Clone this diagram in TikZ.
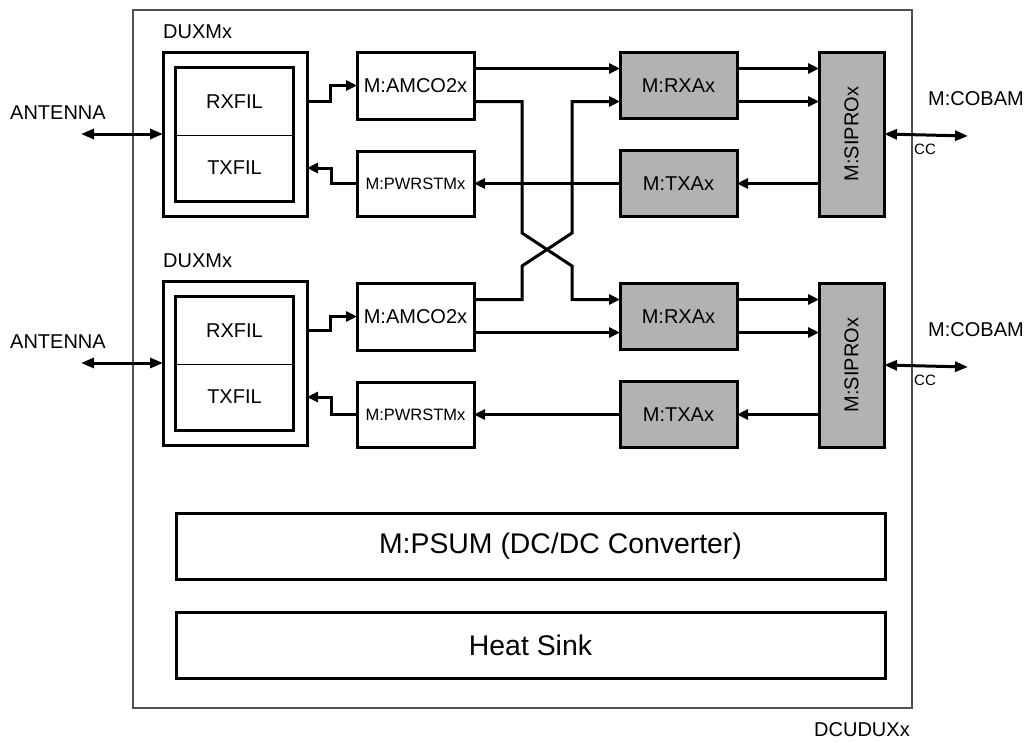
\documentclass[tikz,border=0pt]{standalone}
\usepackage{fontspec}
\setmainfont{Liberation Sans}
\usepackage{graphicx}
\usetikzlibrary{arrows.meta, positioning, calc}
\definecolor{modgray}{RGB}{178,178,178}
\definecolor{framegray}{RGB}{80,80,80}

\tikzset{
    modbox/.style={draw, line width=3pt, inner sep=0pt, outer sep=0pt,
        align=center, font=\fontsize{20}{24}\selectfont},
    rfbox/.style={modbox, fill=modgray, minimum width=117pt, minimum height=66pt},
    sig/.style={line width=3pt, -{Triangle[length=11pt,width=10pt]}},
    bidir/.style={line width=3pt,
        {Triangle[length=13pt,width=10pt]}-{Triangle[length=13pt,width=10pt]}},
    lbl/.style={inner sep=0pt, font=\fontsize{20}{24}\selectfont}
}

\begin{document}
\begin{tikzpicture}[x=1pt, y=-1pt]
    \useasboundingbox (0,0) rectangle (1031,742);

    \node[draw=framegray, line width=1.6pt, inner sep=0pt, outer sep=0pt,
        minimum width=779pt, minimum height=698pt] (dcu) at (522.5,359) {};
    \node[lbl] (dculbl) at (862,730) {DCUDUXx};

    \foreach \g/\dy/\dd/\s in {1/0/0/17, 2/231/229/-16}{
        \node[lbl, anchor=west] (duxlbl\g) at (163,32+\dd) {DUXMx};
        \node[modbox, minimum width=144pt, minimum height=164pt] (duxm\g) at (235,134+\dd) {};
        \node[lbl, minimum width=117pt, minimum height=67pt] (rx\g) at (234.5,101.5+\dd) {RXFIL};
        \node[lbl, minimum width=117pt, minimum height=66pt] (tx\g) at (234.5,168+\dd) {TXFIL};
        \draw[line width=3pt] (rx\g.north west) rectangle (tx\g.south east);
        \draw[line width=1.4pt] (rx\g.south west) -- (rx\g.south east);

        \node[lbl] (antlbl\g) at (58,113+\dd) {ANTENNA};
        \coordinate (ant\g) at (81,134+\dd);
        \draw[bidir] (ant\g) -- (duxm\g.west);

        \node[modbox, minimum width=117pt, minimum height=67pt] (amco\g) at (415.5,85.5+\dy) {M:AMCO2x};
        \node[modbox, minimum width=117pt, minimum height=65pt,
            font=\fontsize{16.5}{20}\selectfont] (pwr\g) at (415.5,183.5+\dy) {M:PWRSTMx};
        \node[rfbox] (rxa\g) at (678.5,85.5+\dy) {M:RXAx};
        \node[rfbox] (txa\g) at (678.5,183.5+\dy) {M:TXAx};
        \node[modbox, fill=modgray, minimum width=65pt, minimum height=164pt]
            (sipro\g) at (851.5,134+\dy) {\rotatebox{90}{M:SIPROx}};

        \draw[sig] (rx\g.east -| duxm\g.east) -- ++(23,0) |- (amco\g.west);
        \draw[sig] (pwr\g.west) -- ++(-26,0) |- (tx\g.east -| duxm\g.east);

        \draw[sig] ([yshift=\s pt]amco\g.east) -- ([yshift=\s pt]rxa\g.west);
        \coordinate (ra\g) at ([yshift=17pt]rxa\g.east);
        \coordinate (rb\g) at ([yshift=-16pt]rxa\g.east);
        \draw[sig] (ra\g) -- (ra\g -| sipro\g.west);
        \draw[sig] (rb\g) -- (rb\g -| sipro\g.west);
        \draw[sig] (sipro\g.west |- txa\g.east) -- (txa\g.east);
        \draw[sig] (txa\g.west) -- (pwr\g.east);

        \node[lbl] (cobam\g) at (976,99+\dy) {M:COBAM};
        \coordinate (cob\g) at (968,136+\dy);
        \draw[bidir] (sipro\g.east) -- (cob\g);
        \node[lbl, anchor=west, font=\fontsize{15}{18}\selectfont] (cc\g) at (914,149+\dy) {CC};
    }

    \draw[sig] ([yshift=-16pt]amco1.east) -| (522,233) -- (572,266) |- ([yshift=17pt]rxa2.west);
    \draw[sig] ([yshift=17pt]amco2.east) -| (522,266) -- (572,233) |- ([yshift=-16pt]rxa1.west);

    \node[modbox, minimum width=709pt, minimum height=66pt,
        font=\fontsize{28.4}{34}\selectfont] (psum) at (530.5,546) {\hspace*{60pt}M:PSUM (DC/DC Converter)};
    \node[modbox, minimum width=709pt, minimum height=66pt,
        font=\fontsize{28.4}{34}\selectfont] (heat) at (530.5,645) {Heat Sink};
\end{tikzpicture}
\end{document}
